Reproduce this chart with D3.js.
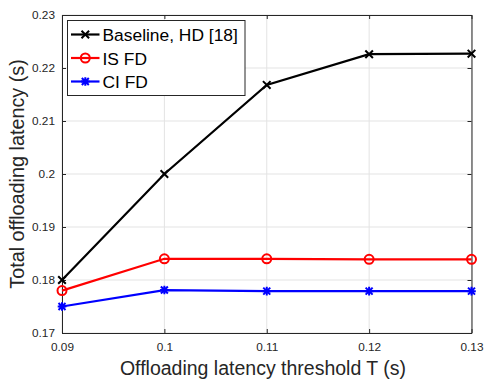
<!DOCTYPE html>
<html><head><meta charset="utf-8">
<script src="https://cdn.jsdelivr.net/npm/d3@7"></script>
<style>body{margin:0;background:#fff;}svg{display:block;font-family:"Liberation Sans",Arial,sans-serif;}</style>
</head><body>
<svg id="c" width="484" height="381"></svg>
<script>
const xValues = [0.09, 0.10, 0.11, 0.12, 0.13];
const baseline = [0.1800, 0.2000, 0.2168, 0.2226, 0.2227];
const isFD = [0.1780, 0.1840, 0.1840, 0.1839, 0.1839];
const ciFD = [0.1750, 0.1781, 0.1779, 0.1779, 0.1779];
const xTicks = [0.09, 0.10, 0.11, 0.12, 0.13];
const xTickLabels = ["0.09", "0.1", "0.11", "0.12", "0.13"];
const yTicks = [0.17, 0.18, 0.19, 0.20, 0.21, 0.22, 0.23];
const yTickLabels = ["0.17", "0.18", "0.19", "0.2", "0.21", "0.22", "0.23"];
const seriesNames = ["Baseline, HD [18]", "IS FD", "CI FD"];
const seriesColors = ["#000000", "#ff0000", "#0000ff"];
const seriesMarkers = ["x", "o", "star"];

const svg = d3.select("#c");
const L = 62, R = 471.5, T = 15, B = 333;
const x = d3.scaleLinear().domain([0.09, 0.13]).range([L, R]);
const y = d3.scaleLinear().domain([0.17, 0.23]).range([B, T]);

// grid
const g = svg.append("g");
g.selectAll(".gx").data(xTicks).enter().append("line")
  .attr("x1", d => x(d)).attr("x2", d => x(d)).attr("y1", T).attr("y2", B)
  .attr("stroke", "#e3e3e3").attr("stroke-width", 1);
g.selectAll(".gy").data(yTicks).enter().append("line")
  .attr("y1", d => y(d)).attr("y2", d => y(d)).attr("x1", L).attr("x2", R)
  .attr("stroke", "#e3e3e3").attr("stroke-width", 1);

// axes
const axisColor = "#262626";
const xAxis = d3.axisBottom(x).tickValues(xTicks).tickFormat((d, i) => xTickLabels[i]).tickSizeInner(-4).tickSizeOuter(0).tickPadding(10);
const yAxis = d3.axisLeft(y).tickValues(yTicks).tickFormat((d, i) => yTickLabels[i]).tickSizeInner(-4).tickSizeOuter(0).tickPadding(7);
const xTop = d3.axisTop(x).tickValues(xTicks).tickFormat("").tickSizeInner(-4).tickSizeOuter(0);
const yRight = d3.axisRight(y).tickValues(yTicks).tickFormat("").tickSizeInner(-4).tickSizeOuter(0);

function style(sel) {
  sel.selectAll("path").attr("stroke", axisColor).attr("stroke-width", 1);
  sel.selectAll("line").attr("stroke", axisColor);
  sel.selectAll("text").attr("fill", axisColor).style("font-size", "11.8px").style("font-family", "Liberation Sans, Arial, sans-serif");
}
style(svg.append("g").attr("transform", `translate(0,${B})`).call(xAxis));
style(svg.append("g").attr("transform", `translate(${L},0)`).call(yAxis));
style(svg.append("g").attr("transform", `translate(0,${T})`).call(xTop));
style(svg.append("g").attr("transform", `translate(${R},0)`).call(yRight));

// series
const allSeries = [baseline, isFD, ciFD];
const line = d3.line().x((d, i) => x(xValues[i])).y(d => y(d));

function drawMarker(sel, type, color, cx, cy) {
  if (type === "x") {
    const s = 3.8;
    sel.append("path").attr("d", `M${cx-s},${cy-s}L${cx+s},${cy+s}M${cx-s},${cy+s}L${cx+s},${cy-s}`)
      .attr("stroke", color).attr("stroke-width", 2).attr("fill", "none");
  } else if (type === "o") {
    sel.append("circle").attr("cx", cx).attr("cy", cy).attr("r", 4.5)
      .attr("stroke", color).attr("stroke-width", 2).attr("fill", "none");
  } else {
    const s = 3.5;
    sel.append("path").attr("d", `M${cx-s},${cy-s}L${cx+s},${cy+s}M${cx-s},${cy+s}L${cx+s},${cy-s}M${cx},${cy-s-0.8}L${cx},${cy+s+0.8}M${cx-s-0.8},${cy}L${cx+s+0.8},${cy}`)
      .attr("stroke", color).attr("stroke-width", 2).attr("fill", "none");
  }
}

allSeries.forEach((vals, k) => {
  const sg = svg.append("g");
  sg.append("path").datum(vals).attr("d", line).attr("fill", "none")
    .attr("stroke", seriesColors[k]).attr("stroke-width", 2.2);
  vals.forEach((v, i) => drawMarker(sg, seriesMarkers[k], seriesColors[k], x(xValues[i]), y(v)));
});

// legend
const lg = svg.append("g");
lg.append("rect").attr("x", 67.5).attr("y", 20.5).attr("width", 177.5).attr("height", 75)
  .attr("fill", "#fff").attr("stroke", axisColor).attr("stroke-width", 1);
seriesNames.forEach((name, k) => {
  const ly = 34.5 + k * 23.5;
  lg.append("line").attr("x1", 71).attr("x2", 99.5).attr("y1", ly).attr("y2", ly)
    .attr("stroke", seriesColors[k]).attr("stroke-width", 2.2);
  drawMarker(lg, seriesMarkers[k], seriesColors[k], 85.3, ly);
  lg.append("text").attr("x", 102.5).attr("y", ly + 6.5).text(name)
    .attr("fill", "#000").style("font-size", "17.4px");
});

// axis labels
svg.append("text").attr("x", 263).attr("y", 374.5).attr("text-anchor", "middle")
  .attr("fill", axisColor).style("font-size", "19.5px").text("Offloading latency threshold T (s)");
svg.append("text").attr("transform", `translate(23.5,${(T + B) / 2}) rotate(-90)`).attr("text-anchor", "middle")
  .attr("fill", axisColor).style("font-size", "19.8px").text("Total offloading latency (s)");
</script>
</body></html>
